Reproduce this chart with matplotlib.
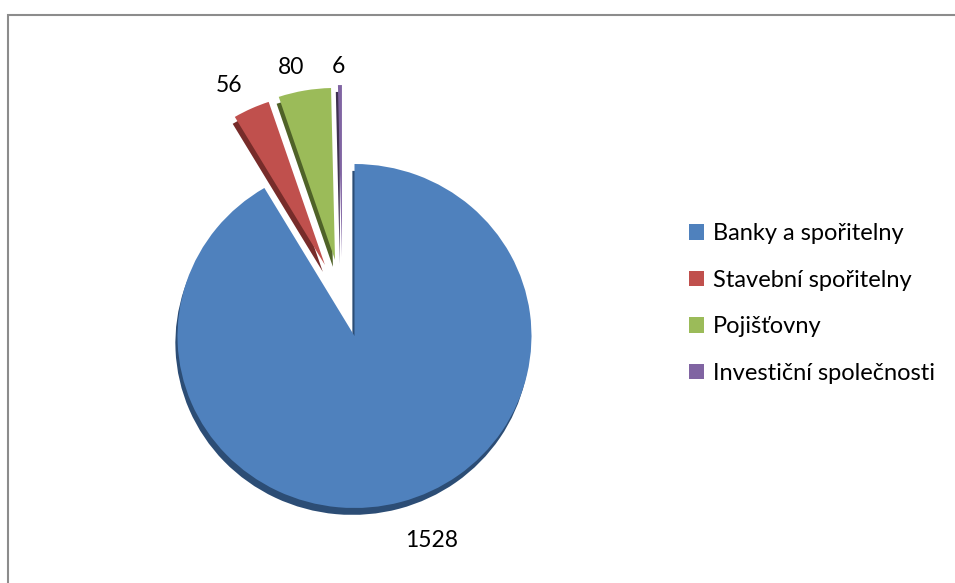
import matplotlib
matplotlib.use("Agg")
import matplotlib.pyplot as plt
from matplotlib.patches import Patch, Rectangle, Wedge
import numpy as np

categories = ["Banky a spořitelny", "Stavební spořitelny", "Pojišťovny", "Investiční společnosti"]
values = [1528, 56, 80, 6]
colors = ["#4F81BD", "#C0504D", "#9BBB59", "#8064A2"]
dark = ["#2C4D75", "#772C2A", "#4F6228", "#3F3151"]

plt.rcParams['font.family'] = ['Lato', 'DejaVu Sans']

W, H = 955, 583
fig = plt.figure(figsize=(W / 100, H / 100), dpi=100)

# pie axes placed in pixels: centre (354.5, 336 from top), rx 177 px, ry 172 px
cx, cy, rx, ry = 354.5, 336, 177, 172
xl, yl = (-1.2, 1.2), (-1.3, 1.7)
left = cx + xl[0] * rx
bottom = (H - cy) + yl[0] * ry
ax = fig.add_axes([left / W, bottom / H, (xl[1] - xl[0]) * rx / W, (yl[1] - yl[0]) * ry / H])

wedges, _ = ax.pie(values, colors=colors, startangle=90, counterclock=False,
                   wedgeprops=dict(linewidth=0))
ax.set_aspect('auto')
ax.set_xlim(*xl)
ax.set_ylim(*yl)
ax.axis('off')

# pulled-out slices (offset of each apex from the pie centre)
offsets = [(0, 0), (-0.167, 0.413), (-0.110, 0.442), (-0.071, 0.459)]
for w, off, dc in zip(wedges, offsets, dark):
    w.set_center(off)
    w.set_zorder(3)
    sh = Wedge((off[0] - 0.012, off[1] - 0.04), w.r, w.theta1, w.theta2,
               facecolor=dc, linewidth=0, zorder=2)
    ax.add_patch(sh)

label_pos = [(0.438, -1.227), (-0.709, 1.419), (-0.359, 1.523), (-0.088, 1.529)]
for v, (lx, ly) in zip(values, label_pos):
    ax.text(lx, ly, str(v), ha='center', va='baseline', fontsize=16.5, color='black')

handles = [Patch(facecolor=c, edgecolor='none') for c in colors]
fig.legend(handles, categories, loc='center left', bbox_to_anchor=(689 / W, 1 - 303.5 / H),
           frameon=False, fontsize=17, handlelength=0.62, handleheight=0.62,
           handletextpad=0.38, labelspacing=1.08, borderpad=0, borderaxespad=0)

# outer chart frame (only left and top edges are visible)
fig.add_artist(Rectangle((8 / W, -0.1), 1.2, 1 - 15 / H + 0.1, transform=fig.transFigure,
                         fill=False, edgecolor='#8C8C8C', linewidth=1.5))

fig.savefig("out.png", dpi=100, facecolor='white')
